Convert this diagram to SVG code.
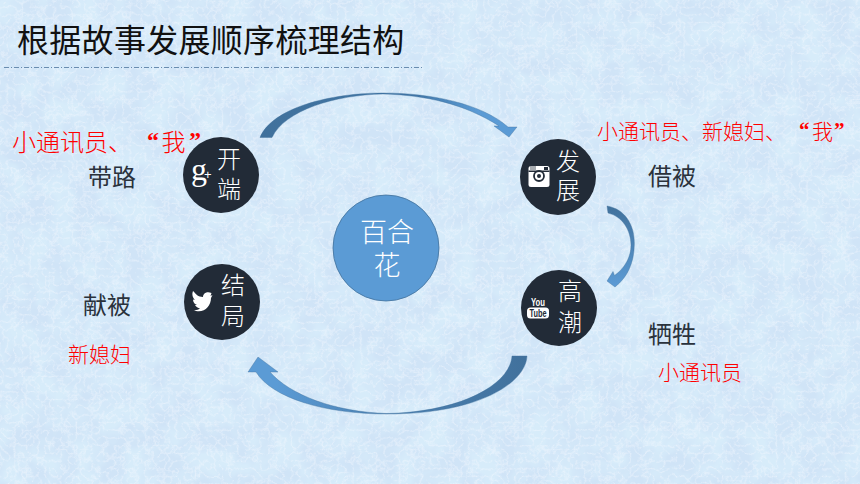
<svg xmlns="http://www.w3.org/2000/svg" width="860" height="484" viewBox="0 0 860 484">
<style>
text{font-family:"Noto Sans CJK SC","Liberation Sans",sans-serif}
.n{fill:#222b37}
.w{fill:#fff;font-size:24px;text-anchor:middle;dominant-baseline:central;font-weight:300}
.c{fill:#fff;font-size:27px;text-anchor:middle;dominant-baseline:central;font-weight:300}
.d{fill:#2a323c;font-size:24px;dominant-baseline:central}
.r{fill:#f00;dominant-baseline:central;font-weight:300}
.q{font-family:"Liberation Serif",serif;font-weight:700}
.i{font-family:"Liberation Sans",sans-serif;font-weight:700;fill:#fff;text-anchor:middle}
.a{stroke:#41719c;stroke-width:.4}
</style>
<defs>
<filter id="tex" x="0" y="0" width="100%" height="100%">
<feTurbulence type="turbulence" baseFrequency="0.13" numOctaves="4" seed="11"/>
<feColorMatrix type="matrix" values="0 0 0 0 .93  0 0 0 0 .95  0 0 0 0 1  -1.500 0 0 0 .5"/>
</filter>
<filter id="blot" x="0" y="0" width="100%" height="100%">
<feTurbulence type="fractalNoise" baseFrequency="0.04" numOctaves="3" seed="4"/>
<feColorMatrix type="matrix" values="0 0 0 0 .68  0 0 0 0 .84  0 0 0 0 .96  2.600 0 0 0 -.85"/>
</filter>
<linearGradient id="g1" x1="0" y1="0" x2="1" y2="0"><stop offset="0" stop-color="#41719c"/><stop offset=".6" stop-color="#3f75a6"/><stop offset=".85" stop-color="#5b9bd5"/></linearGradient>
<linearGradient id="g2" x1="1" y1="0" x2="0" y2="0"><stop offset="0" stop-color="#41719c"/><stop offset=".5" stop-color="#4a80b2"/><stop offset=".9" stop-color="#5b9bd5"/></linearGradient>
<linearGradient id="g3" x1="0" y1="0" x2="0" y2="1"><stop offset="0" stop-color="#41719c"/><stop offset="1" stop-color="#5b9bd5"/></linearGradient>
</defs>
<rect id="bg" width="860" height="484" fill="#d0e4f7"/>
<rect width="860" height="484" filter="url(#blot)"/>
<rect width="860" height="484" filter="url(#tex)"/>
<g id="title">
<text x="17" y="52" font-size="32" fill="#111" letter-spacing=".3">根据故事发展顺序梳理结构</text>
<line x1="4" y1="67.500" x2="422" y2="67.500" stroke="#6a8db0" stroke-width="1" stroke-dasharray="5 2 1 2"/>
</g>
<g id="connectors">
<path class="a" fill="url(#g1)" d="M260,137.500C272,108 330,93 383,93C432,93 482,104 508,127L517,127L509,137L494,126L499,126C465,104 425,95 383,94C335,95 285,110 272,137.500Z"/>
<path class="a" fill="url(#g3)" d="M607,206C625,209 635,225 634.300,245C634,262 628,277 615,287L607,281L613,271.500L614.500,275.500C625,268 631,257 631,245C631,230 622,216 608,213Z"/>
<path class="a" fill="url(#g2)" d="M527,356C526,382 480,414 387,414C325,414 272,398 256,372L248,372L258,357L278,372L270,372C290,395 335,412 387,413.500C460,412 510,385 512,356Z"/>
</g>
<g id="center"><circle cx="386" cy="248" r="53" fill="#5b9bd5" stroke="#41719c" stroke-width=".8"/><text class="c" x="387" y="230">百合</text><text class="c" x="387" y="263">花</text></g>
<g id="node-kaiduan"><circle cx="221" cy="175" r="38" class="n"/>
<text x="191" y="180" font-size="32" fill="#fff" style="font-family:'Liberation Serif',serif">g</text><text x="204" y="179" font-size="13" fill="#fff" style="font-family:'Liberation Sans',sans-serif">+</text>
<text class="w" x="229" y="157">开</text><text class="w" x="229" y="187">端</text></g>
<g id="node-fazhan"><circle cx="558" cy="177" r="38" class="n"/>
<rect x="528.500" y="166" width="21" height="21" rx="2.500" fill="#fff"/>
<rect x="528.500" y="170.500" width="21" height="1.500" fill="#222b37"/>
<path d="M531,166v4M533,166v4M535,166v4" stroke="#222b37" stroke-width=".8"/>
<rect x="544" y="167" width="4" height="3" fill="#222b37"/>
<circle cx="539" cy="176" r="5" fill="#fff" stroke="#222b37" stroke-width="1.800"/><circle cx="539" cy="176" r="2" fill="#222b37"/>
<text class="w" x="568" y="159">发</text><text class="w" x="568" y="188">展</text></g>
<g id="node-gaochao"><circle cx="559" cy="308" r="38" class="n"/>
<text class="i" x="538" y="306" font-size="11" textLength="14" lengthAdjust="spacingAndGlyphs">You</text>
<rect x="527" y="307.500" width="22" height="11" rx="3.500" fill="#fff"/>
<text class="i" x="538" y="316.500" font-size="10" style="fill:#222b37" textLength="17" lengthAdjust="spacingAndGlyphs">Tube</text>
<text class="w" x="570" y="289">高</text><text class="w" x="570" y="320">潮</text></g>
<g id="node-jieju"><circle cx="222" cy="302" r="38" class="n"/>
<path fill="#fff" d="M211.500,293C206,291 203,294 203,297C198,297 196,294 193,291C191.500,295 193,298 195,300L193,299.500C193,302.500 195,304.500 197,305L195,305C196,307 198,308 200,308.500C198,310 195.500,310.500 193,310C203,314.500 211,307 211,298L212.500,295L210.500,296Z"/>
<text class="w" x="233" y="283">结</text><text class="w" x="233" y="314">局</text></g>
<g id="labels">
<text class="r" x="12" y="140" font-size="24">小通讯员、<tspan class="q" x="147">“</tspan><tspan x="161.500">我</tspan><tspan class="q" x="189">”</tspan></text>
<text class="d" x="88" y="175">带路</text>
<text class="r" x="597" y="130" font-size="21">小通讯员、新媳妇、<tspan class="q" x="799">“</tspan><tspan x="812">我</tspan><tspan class="q" x="834">”</tspan></text>
<text class="d" x="648" y="174">借被</text>
<text class="d" x="83" y="303">献被</text>
<text class="r" x="68" y="353" font-size="21">新媳妇</text>
<text class="d" x="648" y="332">牺牲</text>
<text class="r" x="658" y="371" font-size="21">小通讯员</text>
</g>
</svg>
